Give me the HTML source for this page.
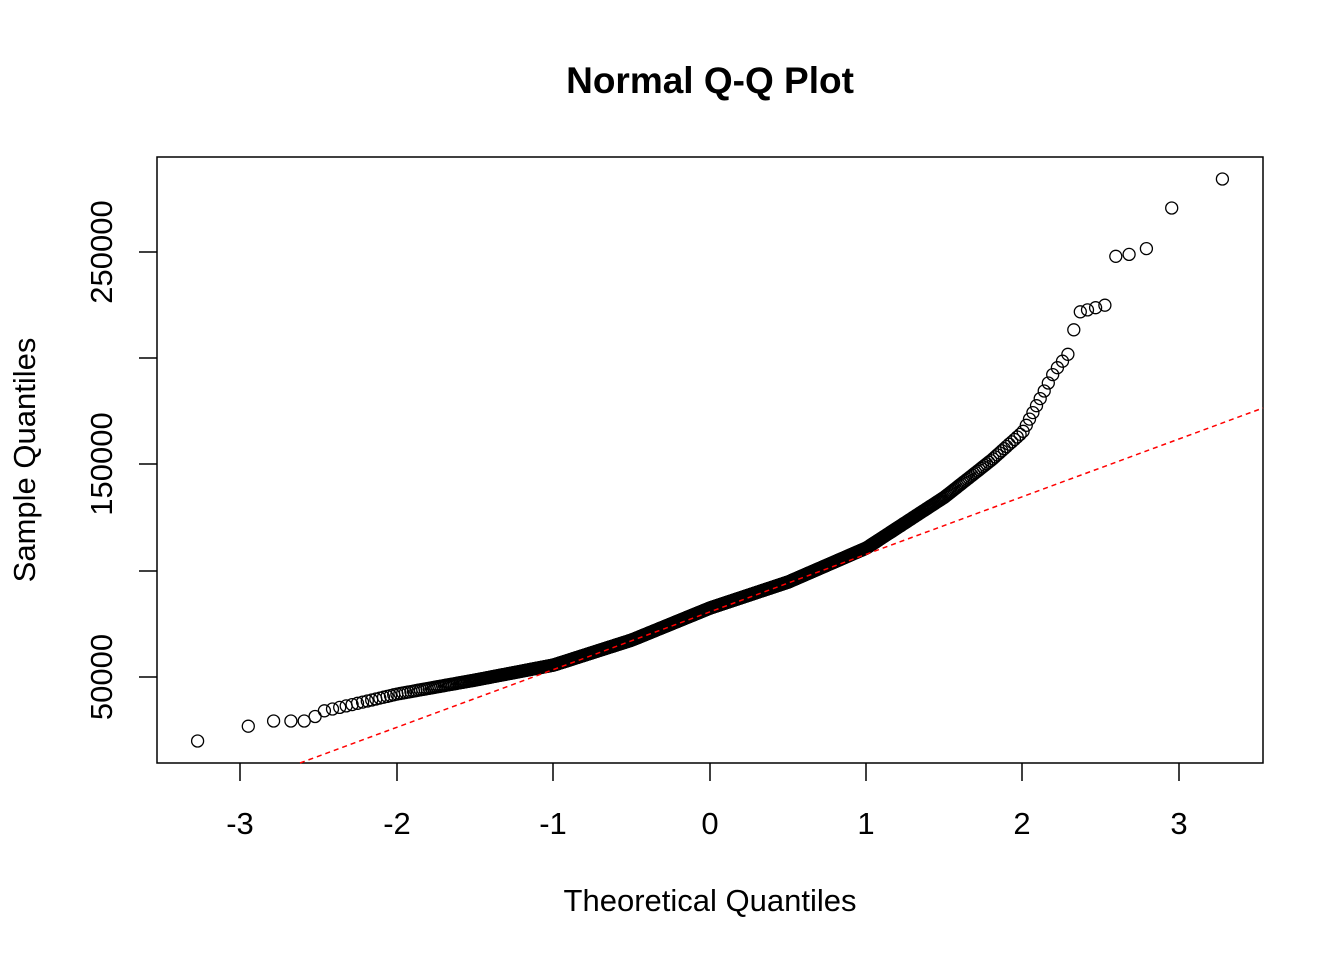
<!DOCTYPE html>
<html><head><meta charset="utf-8"><style>
html,body{margin:0;padding:0;background:#fff;}
svg{display:block;font-family:"Liberation Sans",Arial,sans-serif;}
</style></head><body>
<svg id="s" width="1344" height="960" viewBox="0 0 1344 960" xmlns="http://www.w3.org/2000/svg">
<rect width="1344" height="960" fill="#fff"/>
<text x="710" y="93" text-anchor="middle" font-size="37" font-weight="bold">Normal Q-Q Plot</text>
<rect x="157" y="157" width="1106" height="606" fill="none" stroke="#000" stroke-width="1.5"/>
<g stroke="#000" stroke-width="1.5">
<line x1="240" y1="763" x2="240" y2="781"/><line x1="397" y1="763" x2="397" y2="781"/>
<line x1="553" y1="763" x2="553" y2="781"/><line x1="710" y1="763" x2="710" y2="781"/>
<line x1="866" y1="763" x2="866" y2="781"/><line x1="1022" y1="763" x2="1022" y2="781"/>
<line x1="1179" y1="763" x2="1179" y2="781"/>
<line x1="157" y1="677" x2="139" y2="677"/><line x1="157" y1="571" x2="139" y2="571"/>
<line x1="157" y1="464" x2="139" y2="464"/><line x1="157" y1="358" x2="139" y2="358"/>
<line x1="157" y1="252" x2="139" y2="252"/>
</g>
<g font-size="31" text-anchor="middle">
<text x="240" y="834">-3</text><text x="397" y="834">-2</text><text x="553" y="834">-1</text>
<text x="710" y="834">0</text><text x="866" y="834">1</text><text x="1022" y="834">2</text><text x="1179" y="834">3</text>
<text transform="translate(112,677) rotate(-90)">50000</text>
<text transform="translate(112,464) rotate(-90)">150000</text>
<text transform="translate(112,252) rotate(-90)">250000</text>
<text x="710" y="911">Theoretical Quantiles</text>
<text transform="translate(35,460) rotate(-90)">Sample Quantiles</text>
</g>
<g id="pts" fill="none" stroke="#000" stroke-width="1.3"></g>
<line x1="300" y1="763" x2="1263" y2="408" stroke="#f00" stroke-width="1.5" stroke-dasharray="5,4"/>
</svg>
<script>
function qn(p){var a=[-39.69683028665376,220.9460984245205,-275.9285104469687,138.357751867269,-30.66479806614716,2.506628277459239],
b=[-54.47609879822406,161.5858368580409,-155.6989798598866,66.80131188771972,-13.28068155288572],
c=[-0.007784894002430293,-0.3223964580411365,-2.400758277161838,-2.549732539343734,4.374664141464968,2.938163982698783],
d=[0.007784695709041462,0.3224671290700398,2.445134137142996,3.754408661907416],pl=0.02425,q,r;
if(p<pl){q=Math.sqrt(-2*Math.log(p));return (((((c[0]*q+c[1])*q+c[2])*q+c[3])*q+c[4])*q+c[5])/((((d[0]*q+d[1])*q+d[2])*q+d[3])*q+1);}
if(p>1-pl){q=Math.sqrt(-2*Math.log(1-p));return -(((((c[0]*q+c[1])*q+c[2])*q+c[3])*q+c[4])*q+c[5])/((((d[0]*q+d[1])*q+d[2])*q+d[3])*q+1);}
q=p-0.5;r=q*q;return (((((a[0]*r+a[1])*r+a[2])*r+a[3])*r+a[4])*r+a[5])*q/(((((b[0]*r+b[1])*r+b[2])*r+b[3])*r+b[4])*r+1);}
var K=[[-3.4,741],[-3.1,741],[-2.9,721],[-2.55,721],[-2.5,712],[-2.3,705],[-2.0,694],[-1.5,680],[-1.0,665],[-0.5,640],[0,608],[0.5,582],[1.0,548],[1.5,497],[1.8,460],[2.0,432],[2.2,372],[2.31,350],[2.34,313],[2.53,305],[2.56,257],[2.7,254],[2.8,248],[2.85,208],[3.1,208],[3.15,179],[3.5,179]];
function f(x){for(var i=1;i<K.length;i++){if(x<=K[i][0]){var t=(x-K[i-1][0])/(K[i][0]-K[i-1][0]);return K[i-1][1]+t*(K[i][1]-K[i-1][1]);}}return 179;}
var n=950,g=document.getElementById('pts'),h='';
for(var i=1;i<=n;i++){var x=qn((i-0.5)/n);h+='<circle cx="'+(710+156.4*x).toFixed(1)+'" cy="'+f(x).toFixed(1)+'" r="6"/>';}
g.innerHTML=h;
</script>
</body></html>
